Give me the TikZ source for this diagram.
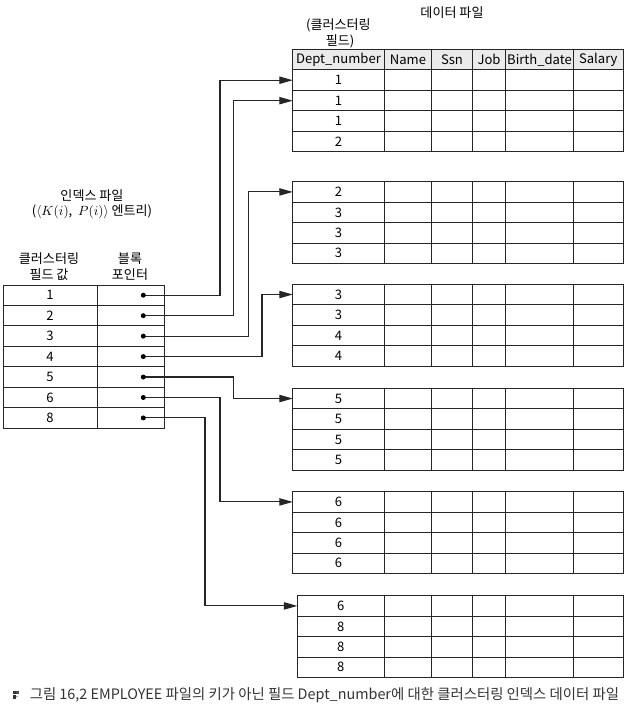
\documentclass[tikz,border=0pt]{standalone}
\usepackage[no-math]{fontspec}
\setmainfont{Noto Sans CJK KR}
\newfontfamily\kr{Noto Sans CJK KR}
\usetikzlibrary{arrows.meta,calc}
\begin{document}
\begin{tikzpicture}[x=0.75pt,y=-0.75pt,
  tbl/.style={draw=black!85, line width=0.75pt},
  arr/.style={draw=black!85, line width=0.8pt, -{Triangle[length=10pt,width=5.5pt]}},
  lbl/.style={font=\kr\fontsize{9.8}{11}\selectfont, align=center, inner sep=0pt},
  cell/.style={font=\kr\fontsize{9.8}{11}\selectfont, inner sep=0pt},
  dotmark/.style={fill=black}
]
\useasboundingbox (0,0) rectangle (628,710);
\def\rh{20.45}
% ---------- titles ----------
\node[lbl] (tdata) at (452,12.5) {데이터 파일};
\node[lbl] (tclf1) at (338.5,25) {(클러스터링};
\node[lbl] (tclf2) at (340,41) {필드)};
\node[lbl] (tidx1) at (92,196) {인덱스 파일};
\node[lbl] (tidx2) at (92,212) {($\langle K(i)$,\ \ $P(i)\rangle$ 엔트리)};
\node[lbl] (tkey1) at (49,259) {클러스터링};
\node[lbl] (tkey2) at (49,274.5) {필드 값};
\node[lbl] (tptr1) at (130,259) {블록};
\node[lbl] (tptr2) at (130,274.5) {포인터};
% ---------- data file header ----------
\draw[tbl, fill=black!8] (292.7,49.3) rectangle (623.3,70);
\foreach \x in {384.3,431.7,472.3,505.7,573.3} \draw[tbl] (\x,49.3) -- (\x,70);
\node[cell] (h1) at (338.5,59.8) {Dept\_number};
\node[cell] (h2) at (408,59.8) {Name};
\node[cell] (h3) at (452,59.8) {Ssn};
\node[cell] (h4) at (489,59.8) {Job};
\node[cell] (h5) at (539.5,59.8) {Birth\_date};
\node[cell] (h6) at (598.3,59.8) {Salary};
% ---------- data blocks ----------
\foreach \b/\T/\L/\va/\vb/\vc/\vd in {
  1/70/292.7/1/1/1/2,
  2/181.7/292.7/2/3/3/3,
  3/284.3/292.7/3/3/4/4,
  4/388.3/292.7/5/5/5/5,
  5/491.7/292.7/6/6/6/6,
  6/595.7/297.3/6/8/8/8}{
  \draw[tbl] (\L,\T) rectangle (623.3,\T+4*\rh);
  \foreach \r in {1,2,3} \draw[tbl] (\L,\T+\r*\rh) -- (623.3,\T+\r*\rh);
  \foreach \x in {384.3,431.7,472.3,505.7,573.3} \draw[tbl] (\x,\T) -- (\x,\T+4*\rh);
  \pgfmathsetmacro\cx{(\L+384.3)/2}
  \node[cell] (d\b r1) at (\cx,\T+0.5*\rh) {\va};
  \node[cell] (d\b r2) at (\cx,\T+1.5*\rh) {\vb};
  \node[cell] (d\b r3) at (\cx,\T+2.5*\rh) {\vc};
  \node[cell] (d\b r4) at (\cx,\T+3.5*\rh) {\vd};
  \coordinate (b\b) at (\L,\T+0.5*\rh);
}
\coordinate (b1b) at (292.7,70+1.5*\rh);
% ---------- index file ----------
\draw[tbl] (3,285) rectangle (164.3,285+7*\rh);
\draw[tbl] (97.3,285) -- (97.3,285+7*\rh);
\foreach \r in {1,...,6} \draw[tbl] (3,285+\r*\rh) -- (164.3,285+\r*\rh);
\foreach \i/\v in {1/1,2/2,3/3,4/4,5/5,6/6,7/8}{
  \node[cell] (k\i) at (50,285+\i*\rh-0.5*\rh) {\v};
  \coordinate (p\i) at (143.3,285+\i*\rh-0.5*\rh);
}
% ---------- vertical guides ----------
\coordinate (v1) at (220,0);
\coordinate (v2) at (233.3,0);
\coordinate (v3) at (248.3,0);
\coordinate (v4) at (262,0);
\coordinate (v5) at (233.7,0);
\coordinate (v6) at (220,0);
\coordinate (v7) at (205,0);
% ---------- connectors ----------
\draw[arr] (p1) -- (p1 -| v1) |- (b1);
\draw[arr] (p2) -- (p2 -| v2) |- (b1b);
\draw[arr] (p3) -- (p3 -| v3) |- (b2);
\draw[arr] (p4) -- (p4 -| v4) |- (b3);
\draw[arr] (p5) -- (p5 -| v5) |- (b4);
\draw[arr] (p6) -- (p6 -| v6) |- (b5);
\draw[arr] (p7) -- (p7 -| v7) |- (b6);
\foreach \i in {1,...,7} \fill[dotmark] (p\i) circle (2.5);
% ---------- caption ----------
\fill[black!80] (12.6,691.2) rectangle (15.6,694.4);
\fill[black!80] (12.6,695.2) rectangle (15.6,698.6);
\fill[black!70] (16.4,691.2) rectangle (19.2,694.4);
\fill[black!35] (16.4,695.6) rectangle (18.0,697.4);
\node[anchor=west, inner sep=0pt, text=black!80, font=\kr\fontsize{10.8}{12}\selectfont] (cap) at (29.5,695)
  {그림 16,2 EMPLOYEE 파일의 키가 아닌 필드 Dept\_number에 대한 클러스터링 인덱스 데이터 파일};
\end{tikzpicture}
\end{document}
